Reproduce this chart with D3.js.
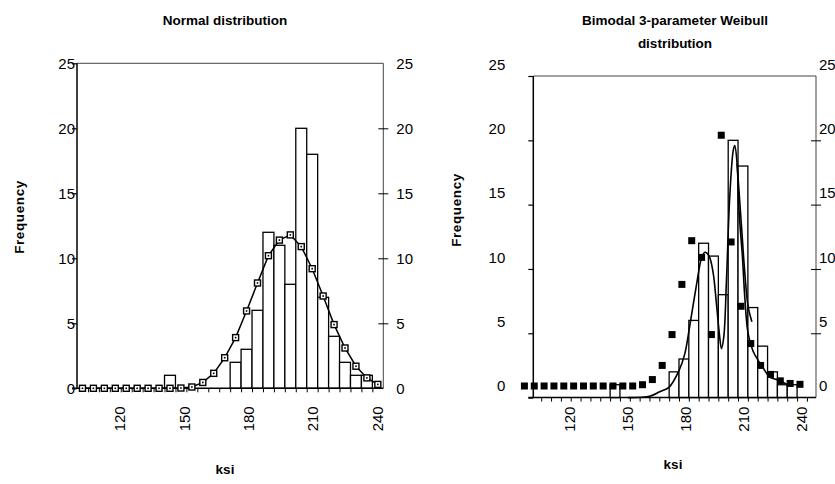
<!DOCTYPE html>
<html>
<head>
<meta charset="utf-8">
<script src="https://cdn.jsdelivr.net/npm/d3@7"></script>
<style>
  body { margin: 0; background: #fff; }
  svg { display: block; font-family: "Liberation Sans", Arial, sans-serif; }
  .tick text { font-size: 15px; fill: #000; }
  .title, .axis-title { font-weight: bold; font-size: 13.5px; }
</style>
</head>
<body>
<svg id="chart" width="835" height="484"></svg>
<script>
// histogram classes (ksi): 28 classes, 5.1 ksi wide, starting at 100 ksi
const binStart = 100;
const binWidth = 5.1;
const frequency = [0, 0, 0, 0, 0, 0, 0, 0, 1, 0, 0, 0, 0, 0,
                   2, 3, 6, 12, 11, 8, 20, 18, 7, 4, 2, 1, 1, 0];

// normal fit, one value per class
const normalFit = [0, 0, 0, 0, 0, 0, 0, 0, 0, 0.02, 0.1, 0.45, 1.15, 2.35,
                   3.9, 5.95, 8.1, 10.2, 11.4, 11.8, 10.9, 9.2, 7.1, 4.9, 3.1, 1.7, 0.8, 0.3];

// bimodal weibull: points (black squares)
const weibullPtKsi = [96.4, 101.5, 106.6, 111.7, 116.8, 121.9, 127.0, 132.1, 137.2, 142.3,
                      147.4, 152.5, 157.6, 162.7, 167.8, 172.9, 178.0, 183.1, 188.2, 193.3,
                      198.4, 203.5, 208.6, 213.7, 218.8, 223.9, 229.0, 234.1, 239.2];
const weibullPt = [0, 0, 0, 0, 0, 0, 0, 0, 0, 0, 0, 0, 0.1, 0.5, 1.6,
                   4.0, 7.9, 11.3, 10.0, 4.0, 19.5, 11.2, 6.2, 3.3, 1.6, 0.9, 0.4, 0.2, 0.13];

// bimodal weibull: fitted curve
const weibullCurveKsi = [150, 161.3, 166.5, 171.3, 176.5, 179.5, 182.1, 185.5, 188.1, 189.9,
                         192.1, 194.2, 195.9, 197.6, 198.5, 199.7, 201.1, 202.8, 204.6, 205.4,
                         206.6, 207.7, 209.4, 210.6, 212.3, 214.9, 217.5, 220.1, 223.6, 227.1, 233];
const weibullCurve = [0, 0.1, 0.45, 0.8, 2.1, 3.4, 5.6, 8.7, 10.8, 11.3,
                      11.0, 9.7, 7.3, 4.7, 3.8, 4.7, 9.1, 15.6, 19.2, 19.6,
                      18.2, 14.3, 10.9, 7.8, 5.0, 3.6, 2.9, 2.3, 1.6, 1.4, 1.0];
// short second branch after the main peak
const weibullTailKsi = [206.6, 208.9, 210.6, 212.3, 214.3];
const weibullTail = [18.2, 13.3, 9.7, 7.1, 5.9];

const xTickLabels = [120, 150, 180, 210, 240];
const yTickLabels = [0, 5, 10, 15, 20, 25];

const svg = d3.select("#chart");
const nBins = frequency.length;
const binEdges = d3.range(nBins + 1).map(i => binStart + i * binWidth);
const bins = frequency.map((f, i) => ({ lo: binEdges[i], hi: binEdges[i + 1], f: f }));

function drawFrame(g, x, yTicksScale, yLabelScale, o) {
  const [x0, x1] = x.range();
  const [yb, yt] = yTicksScale.range();

  // top border and right axis line
  g.append("line").attr("x1", x0).attr("x2", x1).attr("y1", yt).attr("y2", yt)
    .attr("stroke", "#444").attr("stroke-width", 1);
  g.append("line").attr("x1", x1).attr("x2", x1).attr("y1", yt).attr("y2", yb)
    .attr("stroke", "#444").attr("stroke-width", 1);

  // left ticks
  g.append("g").attr("transform", `translate(${x0},0)`)
    .call(d3.axisLeft(yTicksScale).tickValues(yTickLabels).tickSize(5).tickFormat(""))
    .call(a => a.select(".domain").remove())
    .selectAll("line").attr("stroke", "#000").attr("stroke-width", 1.2);
  // left labels
  g.append("g").attr("transform", `translate(${x0},0)`)
    .call(d3.axisLeft(yLabelScale).tickValues(yTickLabels).tickSize(0).tickPadding(o.leftPad))
    .call(a => a.select(".domain").remove());

  // right ticks (crossing)
  g.append("g").attr("transform", `translate(${x1},0)`)
    .call(d3.axisRight(yTicksScale).tickValues(yTickLabels.slice(1, -1)).tickSizeInner(5).tickSizeOuter(0).tickFormat(""))
    .call(a => a.select(".domain").remove())
    .selectAll("line").attr("x1", -5).attr("stroke", "#000");
  // right labels
  g.append("g").attr("transform", `translate(${x1},0)`)
    .call(d3.axisRight(yLabelScale).tickValues(yTickLabels).tickSize(0).tickPadding(o.rightPad))
    .call(a => a.select(".domain").remove());

  // left axis line
  g.append("line").attr("x1", x0).attr("x2", x0).attr("y1", yt).attr("y2", yb)
    .attr("stroke", "#000").attr("stroke-width", 1.5);

  // bottom axis: small ticks at every class boundary
  g.append("g").attr("transform", `translate(0,${yb})`)
    .call(d3.axisBottom(x).tickValues(binEdges.filter(e => e > x.domain()[0] && e < x.domain()[1])).tickSize(4).tickFormat(""))
    .call(a => a.select(".domain").attr("d", `M${x0 - 5},0H${x1}`).attr("stroke-width", 1.5))
    .selectAll("line").attr("stroke", "#000");

  // rotated ksi labels
  g.append("g").selectAll("text")
    .data(xTickLabels)
    .join("text")
    .attr("transform", d => `translate(${x(d)},${yb + o.xLabelGap}) rotate(-90)`)
    .attr("dy", "0.36em")
    .attr("text-anchor", "end")
    .attr("font-size", 15)
    .text(d => d);
}

function drawBars(g, x, y) {
  g.append("g").selectAll("rect")
    .data(bins.filter(b => b.f > 0))
    .join("rect")
    .attr("x", d => x(d.lo))
    .attr("width", d => x(d.hi) - x(d.lo))
    .attr("y", d => y(d.f))
    .attr("height", d => y(0) - y(d.f))
    .attr("fill", "#fff")
    .attr("stroke", "#000")
    .attr("stroke-width", 1.3);
}

// ---------- left: normal distribution ----------
{
  const g = svg.append("g");
  const x = d3.scaleLinear().domain([binStart, binEdges[nBins]]).range([77, 383.3]);
  const y = d3.scaleLinear().domain([0, 25]).range([388.3, 63.3]);

  drawBars(g, x, y);
  drawFrame(g, x, y, y, { leftPad: 2, rightPad: 13, xLabelGap: 18 });

  const pts = normalFit.map((v, i) => [x(binStart + (i + 0.5) * binWidth), y(v)]);
  g.append("path")
    .attr("d", d3.line()(pts))
    .attr("fill", "none")
    .attr("stroke", "#000")
    .attr("stroke-width", 1.5);
  const m = g.append("g").selectAll("g").data(pts).join("g")
    .attr("transform", d => `translate(${d[0]},${d[1]})`);
  m.append("rect").attr("x", -3).attr("y", -3).attr("width", 6).attr("height", 6)
    .attr("fill", "#fff").attr("stroke", "#000").attr("stroke-width", 1.4);
  m.append("rect").attr("x", -0.8).attr("y", -0.8).attr("width", 1.6).attr("height", 1.6)
    .attr("fill", "#000");

  svg.append("text").attr("class", "title").attr("x", 225).attr("y", 25)
    .attr("text-anchor", "middle").text("Normal distribution");
  svg.append("text").attr("class", "axis-title")
    .attr("transform", "translate(24,217) rotate(-90)")
    .attr("text-anchor", "middle").attr("font-size", 15).attr("letter-spacing", 0.6)
    .text("Frequency");
  svg.append("text").attr("class", "axis-title").attr("x", 225).attr("y", 474)
    .attr("text-anchor", "middle").text("ksi");
}

// ---------- right: bimodal 3-parameter weibull ----------
{
  const g = svg.append("g");
  const x = d3.scaleLinear().domain([101, 247.5]).range([533.3, 816]);
  const yBar = d3.scaleLinear().domain([0, 25]).range([397.6, 76]);
  const yPt = d3.scaleLinear().domain([0, 25]).range([386, 64.5]);

  drawBars(g, x, yBar);
  drawFrame(g, x, yBar, yPt, { leftPad: 28, rightPad: 3, xLabelGap: 9 });

  const curve = d3.line()
    .x(d => x(d[0]))
    .y(d => yBar(d[1]))
    .curve(d3.curveCatmullRom.alpha(0.5));
  g.append("path")
    .attr("d", curve(d3.zip(weibullCurveKsi, weibullCurve)))
    .attr("fill", "none").attr("stroke", "#000").attr("stroke-width", 1.6);
  g.append("path")
    .attr("d", curve(d3.zip(weibullTailKsi, weibullTail)))
    .attr("fill", "none").attr("stroke", "#000").attr("stroke-width", 1.6);

  g.append("g").selectAll("rect")
    .data(d3.zip(weibullPtKsi, weibullPt))
    .join("rect")
    .attr("x", d => x(d[0]) - 3.5)
    .attr("y", d => yPt(d[1]) - 3.5)
    .attr("width", 7)
    .attr("height", 7)
    .attr("fill", "#000");

  svg.append("text").attr("class", "title").attr("x", 675).attr("y", 25)
    .attr("text-anchor", "middle").text("Bimodal 3-parameter Weibull");
  svg.append("text").attr("class", "title").attr("x", 675).attr("y", 48)
    .attr("text-anchor", "middle").text("distribution");
  svg.append("text").attr("class", "axis-title")
    .attr("transform", "translate(461,210) rotate(-90)")
    .attr("text-anchor", "middle").attr("font-size", 15).attr("letter-spacing", 0.6)
    .text("Frequency");
  svg.append("text").attr("class", "axis-title").attr("x", 673).attr("y", 469)
    .attr("text-anchor", "middle").text("ksi");
}
</script>
</body>
</html>
